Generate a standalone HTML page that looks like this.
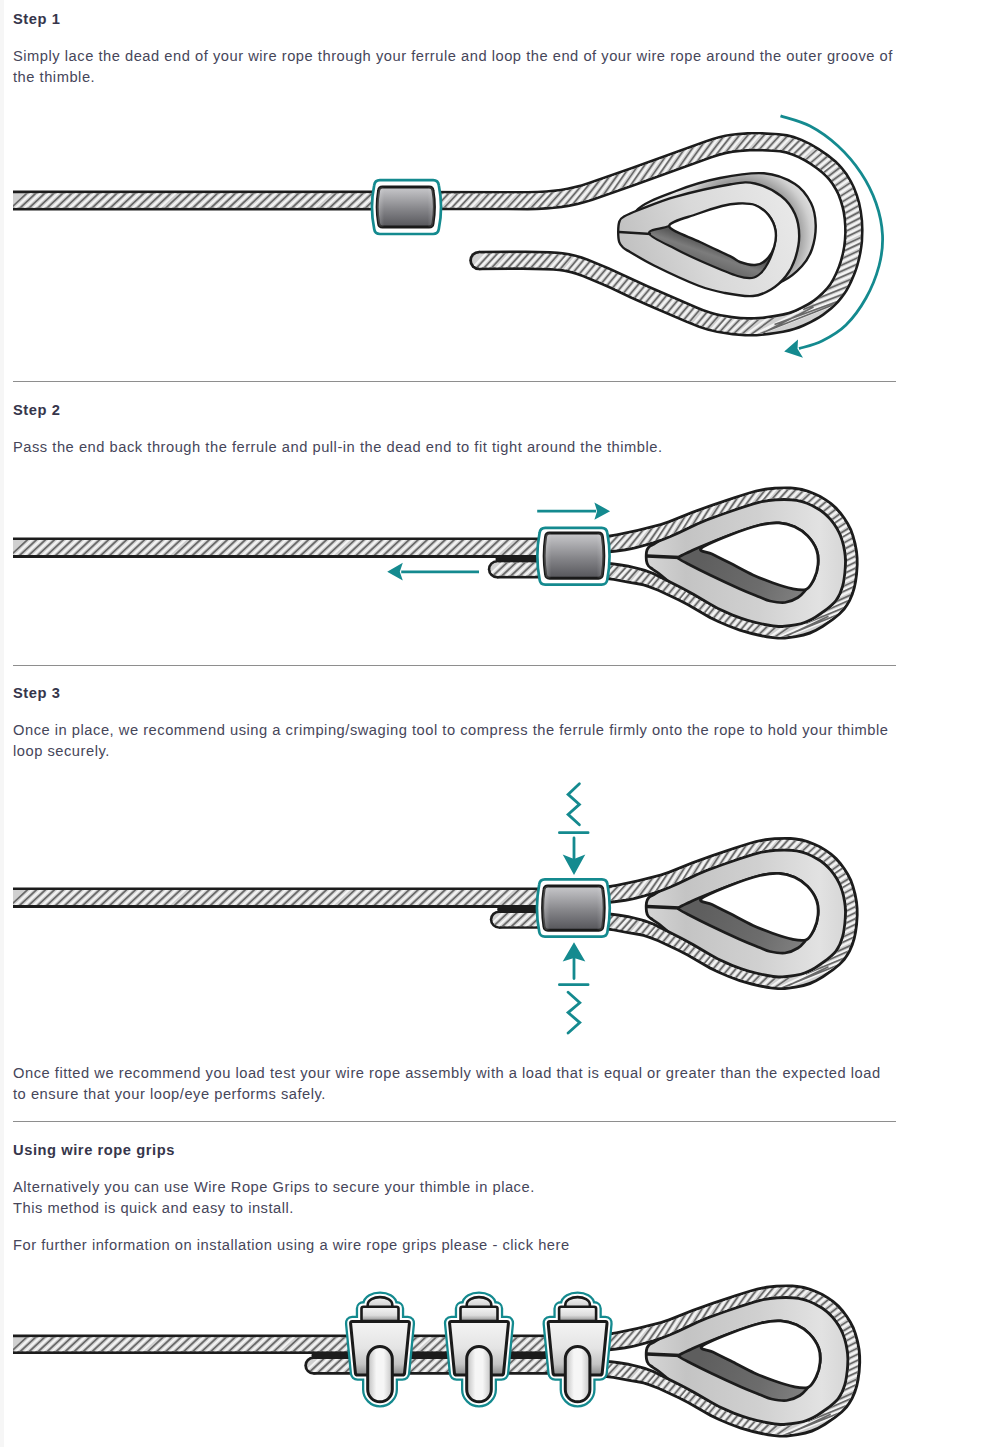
<!DOCTYPE html>
<html><head><meta charset="utf-8">
<style>
html,body{margin:0;padding:0;background:#fff;width:1000px;height:1447px;overflow:hidden;}
body{position:relative;font-family:"Liberation Sans",sans-serif;color:#46465a;font-size:14.7px;letter-spacing:0.52px;}
.t{position:absolute;left:13px;white-space:nowrap;line-height:21px;}
.b{font-weight:bold;color:#36364b;font-size:14.7px;letter-spacing:0.56px;}
.hr{position:absolute;left:13px;width:883px;height:1px;background:#8e8e8e;}
.ls{position:absolute;left:0;top:0;width:4px;height:1447px;background:#f6f6f6;}
</style></head><body>
<div class="ls"></div>
<svg width="1000" height="1447" viewBox="0 0 1000 1447" style="position:absolute;left:0;top:0"><defs>
<linearGradient id="gFer" x1="0" y1="0" x2="0" y2="1">
 <stop offset="0" stop-color="#c9c9cc"/><stop offset="0.55" stop-color="#86868a"/><stop offset="1" stop-color="#55555a"/>
</linearGradient>
<linearGradient id="gFerH" x1="0" y1="0" x2="1" y2="0">
 <stop offset="0" stop-color="#fff" stop-opacity="0.25"/><stop offset="0.12" stop-color="#fff" stop-opacity="0"/>
 <stop offset="0.88" stop-color="#fff" stop-opacity="0"/><stop offset="1" stop-color="#fff" stop-opacity="0.2"/>
</linearGradient>


<radialGradient id="gB1" gradientUnits="userSpaceOnUse" cx="742" cy="236" r="78" fx="742" fy="236">
 <stop offset="0.55" stop-color="#8a8a8a"/><stop offset="0.72" stop-color="#9c9c9c"/><stop offset="0.88" stop-color="#cfcfcf"/><stop offset="1" stop-color="#e4e4e4"/>
</radialGradient>
<linearGradient id="gF1" gradientUnits="userSpaceOnUse" x1="625" y1="260" x2="790" y2="200">
 <stop offset="0" stop-color="#c0c0c0"/><stop offset="0.45" stop-color="#d9d9d9"/><stop offset="1" stop-color="#e8e8e8"/>
</linearGradient>
<linearGradient id="gD1" gradientUnits="userSpaceOnUse" x1="715" y1="245" x2="708" y2="265">
 <stop offset="0" stop-color="#555"/><stop offset="0.5" stop-color="#7c7c7c"/><stop offset="1" stop-color="#6a6a6a"/>
</linearGradient>


<linearGradient id="gT2" gradientUnits="userSpaceOnUse" x1="645" y1="0" x2="850" y2="0">
 <stop offset="0" stop-color="#d6d6d6"/><stop offset="0.2" stop-color="#c4c4c4"/><stop offset="0.55" stop-color="#d0d0d0"/><stop offset="0.85" stop-color="#e2e2e2"/><stop offset="1" stop-color="#d4d4d4"/>
</linearGradient>
<linearGradient id="gD2" gradientUnits="userSpaceOnUse" x1="700" y1="560" x2="800" y2="600">
 <stop offset="0" stop-color="#5e5e5e"/><stop offset="0.6" stop-color="#6c6c6c"/><stop offset="1" stop-color="#808080"/>
</linearGradient>

<g id="L2">
<path d="M646.5 552 C646.8 549.8 647.4 548.8 648.5 547.5 C649.6 546.2 650.8 545.9 653 544.5 C655.2 543.1 654.2 543.8 662 539 C669.8 534.2 687 522.2 700 516 C713 509.8 729 505.5 740 502 C751 498.5 757.3 496.3 766 495 C774.7 493.7 784.4 493.4 792 494 C799.6 494.6 805.2 496.1 811.5 498.8 C817.8 501.6 824.7 505.6 830 510.5 C835.3 515.4 840.1 521.8 843.4 528 C846.7 534.2 848.7 541.5 850 548 C851.3 554.5 851.5 560.2 851.2 567 C850.9 573.8 849.9 582.2 848 588.5 C846.1 594.8 843.7 600 840 604.8 C836.3 609.5 831.3 613.2 826 617 C820.7 620.8 814.3 625 808 627.5 C801.7 630 794 631.1 788 631.8 C782 632.5 779.3 632.8 772 631.7 C764.7 630.6 753.3 628.2 744 625.3 C734.7 622.3 725.3 618.5 716 614 C706.7 609.5 697 604.3 688 598 C679 591.7 667.8 580.8 662 576 C656.2 571.2 655.2 571.2 653 569.5 C650.8 567.8 649.6 567.4 648.5 566 C647.4 564.6 646.8 563.3 646.5 561 C646.2 558.7 646.2 554.2 646.5 552 Z" fill="url(#gT2)" stroke="#1c1c1c" stroke-width="2.8"/>
<g fill="#1c1c1c"><path d="M600.2,534.8 608.3,534.8 616.4,533.5 637.6,528.9 660.2,523.2 668.3,520.6 691.9,511 712,503.7 733.6,496.4 748,491.9 755.6,489.7 765.1,487.8 774.6,486.8 785.8,486.4 790.6,486.6 795.5,487.1 802.1,488.1 808.7,489.9 814.9,492.4 820.8,495.3 826.5,498.7 831.9,502.6 837,507.1 841.4,512.1 845.4,517.4 848.9,523 852,529.1 854.3,535.4 856.4,543.2 857.9,551.3 858.5,557.9 858.6,564.4 858,573.9 856.9,581.9 855.6,588.3 853.6,594.8 850.9,601 848.3,605.6 845.2,609.9 842.8,612.6 840.3,615.1 833.9,620.3 823.6,627.4 816.6,631.5 810.4,634.4 803.8,636.4 795.9,638 784.9,639.4 781.5,639.6 777.9,639.6 772.9,639.1 766.6,638.2 759,636.7 751.4,634.9 745.4,633.3 739.4,631.4 727.7,627.1 717.7,622.8 709.2,618.7 702.4,614.8 687,605.7 677.9,601 657.8,591.5 648.5,587.9 643.2,586.3 639.3,585.4 628,583.5 613.6,580.8 607.1,580 600,580 600,562 606.2,562 611.4,562.3 619.4,563.3 628.5,564.8 631.5,565.4 640.6,567.7 645.3,569.1 649.9,570.8 654.5,572.6 658.9,574.7 682,586.5 694.1,593.1 711,603.1 718.5,607.2 726.4,610.8 733.1,613.7 741.2,616.7 748,618.9 756.3,621.2 764.8,623.1 773.3,624.6 778.6,625.1 782.3,625.1 789.3,624.3 794.9,623.5 800.3,622.4 804,621.2 807.5,619.8 811.1,618 814.6,615.9 819.3,612.8 826.4,607.8 830.5,604.3 833.1,601.7 834.7,599.9 836.7,596.7 838.5,593.4 839.9,589.8 841.2,586 842.1,582.2 842.8,578.1 843.5,572.5 843.9,566.9 844.1,561.3 843.8,555.9 843.3,551.9 842.3,546.5 840.9,541.1 839.1,536 837.5,532.5 835.6,529 832.7,524.5 829.4,520.3 826.7,517.4 823.8,514.7 819.6,511.5 816.2,509.4 811.5,506.8 806.5,504.6 801.6,502.9 796.5,501.8 791.1,501.2 784.1,500.9 775.7,501.2 768.7,501.9 761.8,503.1 753.6,505.3 739.5,509.8 722.6,515.6 707.2,521.2 697.8,525.2 679,534.2 670.3,538.1 662.9,541.1 652.7,544.6 636.3,549 631.8,550.1 625.6,551.2 616.4,552.5 609.7,553.2 606.1,553.4 599.8,553.2 Z"/></g>
<g fill="#d0d0d0"><path id="p7" d="M600.1,537.7 608.6,537.7 616.9,536.3 638.3,531.7 661.1,525.9 669.4,523.3 691.6,514.2 711.6,506.9 734.5,499.2 748.9,494.6 756.3,492.5 765.5,490.7 774.8,489.7 784.2,489.3 793.6,489.8 799.9,490.7 806.2,492.2 812.2,494.4 818,497.1 824.9,501.1 830.1,504.8 834.9,509.2 839.2,513.9 843,519 846.4,524.5 849.3,530.3 851.5,536.3 853.2,542.4 854.8,550.1 855.5,556.4 855.7,564.3 855.1,573.6 854,581.4 852.8,587.6 850.8,593.8 848.3,599.7 845.8,604.1 842.9,608.1 840.7,610.6 838.3,612.9 832.2,617.9 822.1,624.9 815.3,628.9 809.3,631.6 803.1,633.6 795.4,635.2 784.7,636.5 781.4,636.8 778.1,636.7 773.2,636.3 767.1,635.3 759.6,633.8 752.1,632.1 740.3,628.7 728.7,624.4 718.9,620.2 710.6,616.1 703.9,612.3 688.4,603.2 679.2,598.5 659,588.9 649.5,585.2 644.1,583.6 640,582.6 628.5,580.7 614,577.9 607.2,577.1 600,577.1 600,564.9 606.1,564.9 611.1,565.2 618.9,566.2 628,567.7 631,568.2 639.9,570.5 644.5,571.9 649,573.5 653.4,575.3 657.7,577.4 682,589.8 694,596.4 709.5,605.6 717.2,609.8 725.2,613.5 732,616.4 740.2,619.5 747.2,621.7 755.7,624 764.3,625.9 772.9,627.4 778.5,628 782.5,628 791.1,627 796.8,626.1 802.3,624.8 806.2,623.5 810,621.9 813.7,619.9 818.6,616.8 825.8,611.8 830.4,608.3 833.5,605.6 836.2,602.6 837.8,600.5 839.9,597 841.7,593.4 843.1,589.5 844.3,585.5 845.2,581.3 846.5,571.3 846.9,565.6 847,559.8 846.7,555.6 846.2,551.4 845.1,545.8 843.6,540.3 841.8,535 840.1,531.2 838.1,527.5 835.1,522.8 831.6,518.4 828.7,515.3 825.7,512.5 821.3,509.1 817.7,506.9 812.7,504.2 807.6,501.9 802.3,500.1 796.9,499 791.3,498.3 784.1,498 775.4,498.3 768.3,499.1 761.2,500.3 752.8,502.5 738.6,507 721.7,512.9 706.2,518.5 696.7,522.5 677.8,531.6 669.3,535.4 662.1,538.3 651.9,541.8 635.6,546.2 631.2,547.3 625.1,548.3 615.9,549.6 609.5,550.3 606.1,550.5 599.9,550.3 Z"/></g>
<clipPath id="c6"><use href="#p7"/></clipPath>
<path clip-path="url(#c6)" d="M597.6 553.9L615.8 534.4M604.5 554.4L625 532.4M611.6 554L633.1 530.1M620.4 552.9L642.1 527.6M629.6 551.2L650.4 525.2M640.4 548.7L659.9 522.3M649.8 546L667.6 520M657.5 543.5L674.3 517.8M666.4 540.2L682.6 514.3M676 536.1L692.8 509.2M684.5 531.9L700.6 506.1M694.7 526.9L709.4 503.4M703.2 523.4L717.5 500.9M713.1 519.7L727.5 497.5M721.5 516.6L736.1 494.7M730 513.6L744.7 492.1M738.5 510.7L753.5 489.5M746.7 508L762.7 486.8M756.8 504.9L772.5 485.3M764.2 503.2L779.5 485.1M773.1 502.1L788 485.3M780.6 501.7L795.3 485.7M788.1 501.7L802.5 486.8M795.5 502.5L809.4 488.6M802.7 504.1L816.1 491.5M808.1 506.2L821.4 494.2M813.4 508.8L826.6 497.3M818.4 511.8L831.5 500.8M823 515.3L836.2 504.8M827.2 519.3L840.4 509.2M830.9 523.7L844.3 514M833.4 527.2L847 517.9M836.4 532.2L850.2 523.2M838.8 537.5L852.9 528.8M840.2 541.7L854.6 533.2M841.6 547.4L856.4 539.2M842.7 553.1L857.8 545.2M843.4 559.1L858.9 551.3M843.4 565.2L859.4 557.4M843 571.3L859.5 563.5M842.3 577.4L859.2 569.5M841.3 583.5L858.7 575.4M839.4 591.3L857.6 582.8M836.8 597.6L856.4 588.5M830.9 607L853.8 596.6M822.6 615.2L851.5 602.3M798.4 629.4L850.8 607.3M758.8 648.1L856.8 608.5M760.6 645.9L819.4 618.1M764.5 640.7L787.8 624.4M759.6 637.9L774.9 624M753.1 636.4L767.1 622.7M746.4 634.6L759.5 621.1M741.1 633.1L753.4 619.5M735.8 631.3L747.3 617.8M730.3 629.3L741.6 615.9M724.8 627.1L736 613.8M719.4 624.7L730.4 611.5M713.9 622.2L724.9 609.1M708.6 619.5L719.5 606.6M703.4 616.6L714.2 603.8M699.5 614.3L710.3 601.5M694.4 611.2L705.1 598.4M689.3 608.1L700 595.3M684 605.1L694.8 592.3M678.7 602.4L689.5 589.5M674.6 600.4L685.6 587.3M669.2 597.7L680.3 584.5M663.7 595.2L674.9 581.8M658.2 592.6L669.6 579.1M652.7 590.2L664.2 576.4M647 587.9L658.9 573.8M642.5 586.6L654.9 571.8M636.4 585.1L649.4 569.6M630 584L644 567.7M621.9 583L637.1 565.8M615.7 582L631.5 564.5M609.6 581L625.6 563.5M601.9 580L618.3 562.3M595.1 580.2L612.6 561.5M587 580.8L605.3 561.2" stroke="#f4f4f4" stroke-width="2.0" fill="none"/>
<path clip-path="url(#c6)" d="M593.9 553.8L612.1 534.3M600.2 554.9L620.8 532.8M607.2 554.8L628.7 530.8M616 553.8L637.6 528.5M625.2 552.3L646 526.2M636 549.9L655.5 523.5M645.5 547.2L663.4 521.2M653.2 544.9L670.1 519.2M662 541.9L678.2 516M671.4 538.2L688.2 511.3M679.9 533.9L696 508.2M690.3 528.7L705 505.2M698.9 525L713.2 502.5M708.7 521.2L723.1 499.1M717.1 518.1L731.7 496.3M725.6 515.1L740.4 493.5M734 512.1L749 490.9M742.1 509.4L758.1 488.2M752.5 505.8L768.1 486.3M760 503.8L775.3 485.7M769.2 502.3L784.1 485.5M776.8 501.6L791.5 485.7M784.4 501.5L798.8 486.5M792.1 501.8L806.1 488M799.6 503.1L813.1 490.5M805.3 505L818.6 493M810.7 507.4L823.9 495.9M815.9 510.2L829.1 499.2M820.8 513.5L833.9 503M825.2 517.3L838.4 507.2M829.2 521.6L842.5 511.8M831.8 525L845.4 515.6M835 529.8L848.8 520.8M837.6 535L851.8 526.3M839.2 539L853.6 530.6M840.8 544.6L855.6 536.4M842.1 550.3L857.2 542.4M843 556.1L858.5 548.4M843.3 562.1L859.3 554.3M843.1 568.1L859.5 560.3M842.6 574.2L859.4 566.3M841.7 580.2L859.1 572.2M840.1 587.9L858.3 579.4M837.9 594L857.5 584.9M833 603L855.8 592.6M826 610.6L854.9 597.7M805.8 623.6L858.2 601.6M766.9 643.4L864.9 603.8M769.7 643.9L828.5 616.2M769.6 640.6L793 624.3M763.2 638.4L778.5 624.6M756.4 637L770.4 623.4M749.6 635.4L762.6 621.8M744.1 633.9L756.4 620.3M738.7 632.2L750.2 618.7M733.2 630.3L744.4 616.9M727.6 628.1L738.7 614.9M722.1 625.8L733.1 612.7M716.6 623.4L727.6 610.3M711.2 620.8L722.1 607.8M705.9 618L716.7 605.1M702 615.8L712.7 602.9M696.8 612.7L707.6 599.9M691.7 609.6L702.4 596.8M686.5 606.6L697.3 593.7M681.2 603.7L692 590.8M677.1 601.7L688.1 588.6M671.7 599L682.8 585.8M666.3 596.4L677.5 583M660.8 593.9L672.2 580.3M655.3 591.4L666.9 577.6M649.7 589.1L661.6 574.9M645.3 587.6L657.7 572.9M639.3 586L652.3 570.5M633 584.8L647.1 568.4M625.1 583.6L640.3 566.4M618.9 582.6L634.7 565.1M612.9 581.5L628.9 564.1M605.3 580.4L621.6 562.8M598.8 580.4L616.2 561.7M590.9 580.8L609.1 561.2" stroke="#686868" stroke-width="1.6" fill="none"/>
<path d="M679 557 C680.7 555.7 686.5 553.2 690 551.5 C693.5 549.8 693.3 549.8 700 547 C706.7 544.2 720 538.7 730 535 C740 531.3 751.8 527 760 525 C768.2 523 773.2 522.6 779 522.9 C784.8 523.2 789.8 524.6 794.6 526.8 C799.4 529 803.9 532 807.6 535.9 C811.3 539.8 815 545.4 816.7 550.2 C818.4 555 818.4 559.7 818 564.5 C817.6 569.3 816.1 574.7 814.1 578.8 C812.1 582.9 809 586.1 806.3 589.2 C803.6 592.3 801.5 595.3 798 597.5 C794.5 599.7 789.7 601.9 785 602.5 C780.3 603.1 774.2 601.9 770 601 C765.8 600.1 764.5 599 759.5 597 C754.5 595 748.2 592.7 740 589 C731.8 585.3 718.3 579 710 575 C701.7 571 695 567.6 690 565 C685 562.4 681.8 560.8 680 559.5 C678.2 558.2 677.3 558.3 679 557 Z" fill="url(#gD2)" stroke="#1c1c1c" stroke-width="2.7"/>
<path d="M701 548.5 C704 545.3 720.2 538.9 730 535 C739.8 531.1 751.8 527 760 525 C768.2 523 773.2 522.6 779 522.9 C784.8 523.2 789.8 524.6 794.6 526.8 C799.4 529 803.9 532 807.6 535.9 C811.3 539.8 815 545.4 816.7 550.2 C818.4 555 818.4 559.7 818 564.5 C817.6 569.3 816.1 574.7 814.1 578.8 C812.1 582.9 810 587.6 806.3 589.2 C802.6 590.8 797.6 589.7 792 588.6 C786.4 587.5 779 585 772.5 582.7 C766 580.4 760.1 578.2 753 574.9 C745.9 571.6 736.8 566.5 730 563 C723.2 559.5 716.8 556.4 712 554 C707.2 551.6 698 551.7 701 548.5 Z" fill="#fff" stroke="#1c1c1c" stroke-width="2.8"/>
<path d="M647 556 L680 557.5" stroke="#1c1c1c" stroke-width="3.6" fill="none"/>
</g>

<linearGradient id="gSad" x1="0" y1="0" x2="0" y2="1">
 <stop offset="0" stop-color="#f4f4f4"/><stop offset="0.5" stop-color="#e4e4e4"/><stop offset="0.8" stop-color="#c4c4c4"/><stop offset="1" stop-color="#8a8a8a"/>
</linearGradient>
<linearGradient id="gNut" x1="0" y1="0" x2="0" y2="1">
 <stop offset="0" stop-color="#f6f6f6"/><stop offset="0.6" stop-color="#dcdcdc"/><stop offset="1" stop-color="#8e8e8e"/>
</linearGradient>
<linearGradient id="gLeg" x1="0" y1="0" x2="1" y2="0">
 <stop offset="0" stop-color="#bdbdbd"/><stop offset="0.35" stop-color="#f6f6f6"/><stop offset="0.65" stop-color="#f6f6f6"/><stop offset="1" stop-color="#c4c4c4"/>
</linearGradient>
<linearGradient id="gDome" x1="0" y1="0" x2="0" y2="1">
 <stop offset="0" stop-color="#f2f2f2"/><stop offset="1" stop-color="#d0d0d0"/>
</linearGradient>
</defs>
<g fill="#1c1c1c"><path d="M13,190.6 420,190.6 420,210.4 13,210.4 Z"/></g>
<g fill="#d0d0d0"><path d="M13,193.3 420,193.3 420,207.7 13,207.7 Z"/></g>
<clipPath id="c1"><path d="M13,193.3 420,193.3 420,207.7 13,207.7 Z"/></clipPath>
<path clip-path="url(#c1)" d="M12.2 211.1L34.9 189.9M21.2 211.1L43.9 189.9M30.2 211.1L52.9 189.9M39.2 211.1L61.9 189.9M48.3 211.1L70.9 189.9M57.3 211.1L80 189.9M66.3 211.1L89 189.9M75.3 211.1L98 189.9M84.3 211.1L107 189.9M93.3 211.1L116 189.9M102.3 211.1L125 189.9M111.3 211.1L134 189.9M120.3 211.1L143 189.9M129.4 211.1L152 189.9M138.4 211.1L161.1 189.9M147.4 211.1L170.1 189.9M156.4 211.1L179.1 189.9M166.9 211.1L189.6 189.9M175.9 211.1L198.6 189.9M184.9 211.1L207.6 189.9M193.9 211.1L216.6 189.9M202.9 211.1L225.6 189.9M212 211.1L234.7 189.9M221 211.1L243.7 189.9M230 211.1L252.7 189.9M239 211.1L261.7 189.9M248 211.1L270.7 189.9M257 211.1L279.7 189.9M266 211.1L288.7 189.9M275 211.1L297.7 189.9M284 211.1L306.7 189.9M293.1 211.1L315.8 189.9M302.1 211.1L324.8 189.9M311.1 211.1L333.8 189.9M321.6 211.1L344.3 189.9M330.6 211.1L353.3 189.9M339.6 211.1L362.3 189.9M348.6 211.1L371.3 189.9M357.6 211.1L380.3 189.9M366.6 211.1L389.3 189.9M375.7 211.1L398.4 189.9M384.7 211.1L407.4 189.9M393.7 211.1L416.4 189.9M402.7 211.1L425.4 189.9M411.7 211.1L434.4 189.9" stroke="#f4f4f4" stroke-width="2.0" fill="none"/>
<path clip-path="url(#c1)" d="M7.7 211.1L30.4 189.9M16.7 211.1L39.4 189.9M25.7 211.1L48.4 189.9M34.7 211.1L57.4 189.9M43.7 211.1L66.4 189.9M52.7 211.1L75.4 189.9M61.7 211.1L84.4 189.9M70.7 211.1L93.4 189.9M79.7 211.1L102.4 189.9M88.8 211.1L111.5 189.9M97.8 211.1L120.5 189.9M106.8 211.1L129.5 189.9M115.8 211.1L138.5 189.9M124.8 211.1L147.5 189.9M133.8 211.1L156.5 189.9M142.8 211.1L165.5 189.9M151.8 211.1L174.5 189.9M162.3 211.1L185 189.9M171.4 211.1L194.1 189.9M180.4 211.1L203.1 189.9M189.4 211.1L212.1 189.9M198.4 211.1L221.1 189.9M207.4 211.1L230.1 189.9M216.4 211.1L239.1 189.9M225.4 211.1L248.1 189.9M234.4 211.1L257.1 189.9M243.4 211.1L266.1 189.9M252.5 211.1L275.2 189.9M261.5 211.1L284.2 189.9M270.5 211.1L293.2 189.9M279.5 211.1L302.2 189.9M288.5 211.1L311.2 189.9M297.5 211.1L320.2 189.9M306.5 211.1L329.2 189.9M317 211.1L339.7 189.9M326.1 211.1L348.7 189.9M335.1 211.1L357.8 189.9M344.1 211.1L366.8 189.9M353.1 211.1L375.8 189.9M362.1 211.1L384.8 189.9M371.1 211.1L393.8 189.9M380.1 211.1L402.8 189.9M389.1 211.1L411.8 189.9M398.1 211.1L420.8 189.9M407.2 211.1L429.8 189.9" stroke="#686868" stroke-width="1.7" fill="none"/>
<g fill="#1c1c1c"><path d="M400,190.8 527.4,190.9 537.6,190.7 546.3,190.2 553.5,189.6 560.5,188.7 567.4,187.5 575.8,185.6 581.2,184.2 588,182 630.3,167.3 705.1,140.2 712.6,137.7 718.8,135.9 725.2,134.5 731.7,133.4 738.1,132.8 747.4,132.1 753.8,131.9 760.2,131.9 778.8,132.9 787.3,134.1 794.1,135.8 802,138.7 810.9,143 819.4,147.9 828.6,154.3 836.3,160.6 840,164.2 842.3,166.8 844.5,169.5 847.6,173.6 851.9,180.7 855,186.9 858,194.8 860.3,202.6 862,210.9 863.2,220.5 863.6,230.3 863.2,241.6 862.6,246.6 861.6,253.1 860.2,259.4 858.6,265.6 857,270.4 855.3,275.1 852.1,282.4 850,286.8 847.5,291.3 845.5,294.3 842.4,298.5 839.1,302.4 835.6,306 831.9,309.4 828.1,312.6 824,315.7 819.8,318.5 815.5,321 811.2,323.3 804,326.8 799.3,328.7 794.5,330.3 789.6,331.7 783.3,333 769.3,335.3 756.6,336.5 751.7,336.6 745.2,336.5 738.8,336.1 732.5,335.4 717,333.1 707.4,330.8 698.2,327.8 685.2,322.6 647.9,306.4 630,298.4 609.6,288.7 601.6,285.2 582.6,277.2 576,274.9 570.9,273.4 564.2,271.9 559,271.2 553.5,270.8 544.7,270.4 522.5,270 479,270.2 479,250.8 525.6,250.5 537.7,250.7 549.9,251.1 557.8,251.5 562.7,252 569.3,253 575.7,254.5 582,256.3 588.1,258.5 609.3,267.3 649,285.5 696.9,306.3 703.6,309 710.2,311.3 715.4,312.8 720.7,314 732,315.7 740.5,316.7 747.4,317.1 754.2,317.1 762.6,316.4 772.5,315.1 782.3,313.3 788.7,311.7 794.9,309.4 801.1,306.5 807.2,303.3 812.8,299.7 817,296.5 821.9,292.1 826.4,287.3 829.5,283.3 832,279 835,272.9 837.7,266.5 839.8,260.2 841.6,253.5 842.9,246.7 843.7,240 844.1,233.1 844,226.3 843.5,219.4 842.5,212.6 841.4,207.5 839.5,200.9 837.2,194.8 834.9,190.3 831.4,184.6 828.4,180.5 825,176.8 821.2,173.3 815.8,169.1 810,165.1 804.2,161.5 798.1,158.3 792,155.7 785.8,153.7 779.7,152.6 772.9,152 759.7,151.4 749.9,151.5 739.8,152.2 732.9,153 726.3,154.2 719.7,155.9 711.6,158.6 636.9,185.6 592.7,201 585.1,203.3 578.9,204.9 569.7,206.9 561.8,208.2 553.9,209.1 546.2,209.7 536.9,210.2 527.7,210.4 400,210.2 Z"/><circle cx="479" cy="260.5" r="9.8"/></g>
<g fill="#d0d0d0"><path id="p3" d="M400,193.5 527.4,193.6 537.7,193.3 546.5,192.8 553.8,192.2 560.9,191.3 568,190.1 576.4,188.3 581.9,186.8 588.9,184.6 631.2,169.8 704.6,143.2 713.4,140.3 719.5,138.5 725.7,137.1 732.1,136.1 747.6,134.8 753.9,134.6 760.1,134.6 777,135.5 785.1,136.4 791.7,137.9 799.4,140.6 808.2,144.6 812.5,146.9 817.9,150.2 827,156.5 834.4,162.6 838,166.1 840.3,168.5 845.3,175.1 849.6,182 852.6,188 855.5,195.7 857.7,203.3 859.4,211.3 860.5,220.8 860.9,230.3 860.5,241.4 860,246.2 858.9,252.6 857.6,258.8 856,264.9 854.5,269.5 852.8,274.1 850.3,279.8 847.6,285.6 845.1,289.9 843.3,292.8 840.3,296.8 837.1,300.6 833.7,304.1 830.1,307.4 826.4,310.5 822.5,313.5 818.4,316.2 814.2,318.6 810,320.9 802.9,324.3 798.4,326.1 793.7,327.7 789,329 782.8,330.4 775.1,331.7 767.4,332.8 761.2,333.4 754.9,333.9 750.1,333.9 743.7,333.8 732.8,332.8 717.5,330.5 708.1,328.2 699.1,325.2 684.9,319.5 649,303.9 631.1,295.9 610.7,286.3 602.7,282.7 583.5,274.7 576.8,272.3 571.5,270.7 566.1,269.5 560.6,268.7 555,268.2 546.3,267.8 524,267.3 479,267.5 479,253.5 525.5,253.2 548.3,253.7 556,254.1 562.3,254.7 568.7,255.7 575,257.1 581.2,258.9 587.2,261 608.2,269.7 647.9,288 695.8,308.8 702.6,311.5 709.3,313.8 714.7,315.4 720.2,316.6 731.6,318.4 740.3,319.4 747.3,319.8 754.3,319.8 764.3,319 774.4,317.6 784.2,315.7 790.8,313.9 797.2,311.4 803.6,308.3 809.7,304.9 814.3,301.9 818.7,298.6 823.8,294 828.4,289 831.7,284.8 834.4,280.3 837.4,274.1 840.2,267.5 842.4,260.9 844.5,252.7 845.8,245.8 846.5,238.9 846.8,231.8 846.6,224.7 846,217.7 845,210.8 843.7,205.5 841.6,198.8 839.7,193.7 837.3,188.9 833.7,183.1 830.5,178.8 826.9,174.9 822.9,171.2 817.4,166.9 811.5,162.8 805.5,159.1 799.3,155.9 793,153.2 786.5,151.1 781.4,150.1 774.5,149.4 759.8,148.7 749.8,148.8 739.6,149.5 732.5,150.3 725.7,151.6 718.9,153.3 710.7,156 635.9,183.1 591.8,198.5 584.4,200.7 578.3,202.3 569.2,204.2 561.4,205.5 553.7,206.4 546,207 536.8,207.5 527.6,207.7 400,207.5 Z"/><circle cx="479" cy="260.5" r="7"/></g>
<clipPath id="c2"><use href="#p3"/><circle cx="479" cy="260.5" r="7"/></clipPath>
<path clip-path="url(#c2)" d="M397.2 211L416.7 190M404.7 211L424.2 190M412.2 211L431.7 190M421.2 211L440.7 190M428.7 211L448.2 190M436.2 211L455.7 190M445.2 211L464.8 190M452.7 211L472.3 190M460.2 211L479.8 190M467.7 211L487.3 190M476.7 211L496.3 190M484.2 211L503.7 190.1M491.8 211L511.2 190.2M499.3 211.1L518.7 190.3M508.2 211.2L527.7 190.3M515.7 211.2L535.3 190.2M523.1 211.2L543 190M532 211.1L552.3 189.3M539.5 210.8L559.9 188.6M548.4 210.3L569.1 187.3M557.2 209.6L578.6 185.1M565.9 208.4L587.9 182.5M574.5 206.8L597.2 179.3M584.5 204.3L607.6 175M594.8 201L617 171.2M605.4 197.2L625.8 168.4M614 194.3L634.2 165.4M623.8 190.9L644.3 161.7M632.3 187.9L652.8 158.6M642.2 184.3L662.7 155.1M652 180.8L672.6 151.4M660.5 177.8L681.1 148.3M670.4 174.2L690.9 144.8M680.2 170.6L700.9 141.2M689.7 167.2L711.4 137.1M699.3 163.6L721.6 133.7M709.4 159.7L731.2 131.3M718.4 156.6L738.9 130.7M727.6 154.3L746.7 130.8M736.7 153.1L755.3 130.7M744.1 152.5L762.7 130.7M753.2 152.1L771.3 131.3M760.7 152.2L778.7 132M768 152.5L786.3 132.5M775.6 152.9L793.4 133.8M783.1 153.9L799.9 136.4M788.7 155.5L805.3 138.8M794.2 157.6L810.8 141.5M799.5 160L816.1 144.5M805.8 163.6L822.5 148.6M810.7 166.7L827.5 152.1M815.5 170.1L832.4 155.9M820.1 173.7L837.1 159.8M823.3 176.5L840.4 163M827.3 180.7L844.5 167.7M830.8 185.3L848.2 172.7M833.9 190.3L851.5 177.9M836.6 195.4L854.5 183.4M838.6 200.9L857 189.1M840.3 206.5L859.1 194.9M841.7 212.1L860.9 200.9M842.6 218L862.3 207M843.1 223.9L863.3 213.1M843.4 229.8L864 219.2M843.4 235.8L864.4 225.3M843 241.8L864.5 231.4M842.1 249.3L864.2 239M840.8 255.6L863.7 244.9M838.6 263.3L862.7 252.1M836.1 270.9L861.1 259.4M832.6 278.4L859.3 266.4M828.7 285.6L856.8 273.3M823.1 294.2L853.7 281.3M813.6 303.2L851 288.2M797.6 314.6L846.8 296M766.4 329.8L849.3 299.6M716.3 351.2L863.2 293.2M739.8 341.9L804.1 308.8M740.5 338.7L772.5 315M733.9 337.3L757.6 316.5M727.1 336L747.4 316.5M720.9 334.8L739.2 315.8M714.3 333.7L731.3 314.8M708.8 332.5L725.2 313.9M702.1 330.4L717.6 312.4M696.7 328.4L711.7 310.8M691.3 326.3L705.9 308.9M684.5 323.4L698.9 306.1M679 321L693.4 303.8M673.5 318.6L687.9 301.5M668 316.2L682.4 299.1M662.5 313.8L676.9 296.7M657 311.4L671.4 294.3M651.5 309L665.9 291.9M646 306.6L660.4 289.5M640.5 304.2L654.9 287.1M635.1 301.7L649.4 284.7M629.6 299.3L643.9 282.2M624.2 296.8L638.4 279.7M618.8 294.2L633 277.2M613.4 291.6L627.6 274.6M607.9 289L622.2 272M602.4 286.5L616.7 269.5M596.9 284.2L611.3 267.1M591.3 281.9L605.7 264.7M585.8 279.5L600.2 262.3M580.2 277.2L594.7 260M574.5 275.2L589.1 257.8M568.6 273.4L583.5 255.8M562.5 272.2L577.7 254.1M554.7 271.1L570.6 252.4M548.1 270.9L564.9 251.4M540 270.9L557.7 250.7M532.2 270.8L550.3 250.3M524.4 270.6L543 250M516.7 270.7L535.6 249.9M509.1 270.7L528.1 249.8M501.5 270.8L520.7 249.8M493.9 270.9L513.2 249.8M484.8 270.9L504.3 249.8M477.2 271L496.8 249.9M469.7 271L489.3 250" stroke="#f4f4f4" stroke-width="2.0" fill="none"/>
<path clip-path="url(#c2)" d="M393.2 211L412.8 190M400.7 211L420.3 190M408.2 211L427.8 190M417.2 211L436.8 190M424.7 211L444.3 190M432.2 211L451.8 190M441.2 211L460.8 190M448.7 211L468.3 190M456.2 211L475.8 190M463.7 211L483.3 190M472.8 211L492.3 190M480.3 211L499.8 190.1M487.8 211L507.2 190.2M495.3 211L514.7 190.2M504.3 211.1L523.8 190.3M511.7 211.2L531.3 190.2M519.1 211.3L538.9 190M527.9 211.3L548.2 189.5M535.3 211.1L555.7 188.9M544.1 210.8L564.8 187.7M552.7 210.3L574.1 185.9M561.2 209.4L583.3 183.5M569.7 208.1L592.3 180.6M579.6 206L602.6 176.6M589.9 202.7L612.1 173M600.7 198.8L621.1 170M609.3 195.9L629.5 167M619.1 192.6L639.5 163.4M627.6 189.6L648.1 160.3M637.5 186L657.9 156.8M647.3 182.6L667.9 153.1M655.7 179.5L676.4 150M665.6 175.9L686.2 146.5M675.5 172.4L696.1 143M684.8 169.1L706.5 139M694.4 165.3L716.7 135.4M704.5 161.2L726.4 132.8M713.9 157.6L734.4 131.7M723.5 154.9L742.6 131.3M732.7 153.4L751.3 131M740.2 152.6L758.7 130.9M749.4 152L767.5 131.3M757 152L775 131.8M764.3 152.3L782.6 132.3M772 152.5L789.8 133.4M779.9 153.1L796.7 135.5M785.7 154.4L802.3 137.7M791.3 156.3L807.9 140.3M796.7 158.6L813.3 143.1M803.2 162L819.9 147M808.2 165L825 150.5M813.1 168.3L830 154.1M817.8 171.8L834.8 157.9M821.2 174.5L838.2 161.1M825.4 178.6L842.5 165.5M829.1 183L846.4 170.3M832.3 187.8L850 175.4M835.2 192.8L853.1 180.8M837.5 198.1L855.9 186.3M839.4 203.6L858.2 192.1M840.9 209.2L860.1 198M842 215L861.7 204M842.7 220.8L862.9 210M843.2 226.6L863.7 216.1M843.3 232.6L864.3 222.1M843.1 238.5L864.6 228.2M842.4 246L864.5 235.7M841.3 252.2L864.2 241.5M839.4 259.8L863.4 248.6M837.1 267.2L862.1 255.7M834 274.6L860.7 262.6M830.4 281.7L858.5 269.4M825.3 290.1L855.9 277.2M817 298.7L854.4 283.7M803.1 309.4L852.2 290.8M774.5 324.5L857.4 294.3M725.2 347.5L872.1 289.4M749.3 340L813.5 307M746.1 338.1L778.2 314.4M738.3 337.3L762 316.5M731 336.3L751.3 316.8M724.5 335.3L742.8 316.3M717.7 334.2L734.7 315.3M712.1 333.1L728.5 314.5M705.2 331.2L720.8 313.2M699.7 329.4L714.7 311.7M694.2 327.3L708.8 309.9M687.3 324.5L701.8 307.3M681.8 322.2L696.2 305M676.3 319.8L690.7 302.7M670.8 317.4L685.2 300.3M665.3 315L679.7 297.9M659.8 312.6L674.2 295.5M654.3 310.2L668.6 293.1M648.8 307.8L663.1 290.7M643.3 305.4L657.6 288.3M637.8 303L652.1 285.9M632.3 300.5L646.7 283.5M626.9 298L641.2 281M621.5 295.5L635.7 278.5M616.1 292.9L630.3 275.9M610.6 290.3L624.9 273.3M605.2 287.8L619.5 270.8M599.7 285.4L614 268.3M594.1 283L608.5 265.9M588.6 280.7L603 263.5M583 278.4L597.5 261.2M577.4 276.3L592 258.9M571.6 274.4L586.4 256.8M565.7 273L580.9 254.9M558 271.7L573.9 253M551.6 271.3L568.4 251.8M543.7 271.1L561.3 250.8M535.9 270.9L554.1 250.4M528.2 270.7L546.8 250.1M520.6 270.7L539.4 249.9M513 270.7L532 249.8M505.4 270.8L524.6 249.8M497.8 270.8L517.2 249.8M488.8 270.9L508.2 249.8M481.2 271L500.8 249.9M473.7 271L493.3 249.9" stroke="#686868" stroke-width="1.6" fill="none"/>
<path d="M379.9 180.2 L433.1 180.2 Q438.1 180.2 438.8 185.2 C441.5 198.3 441.5 215.8 438.8 229 Q438.1 234 433.1 234 L379.9 234 Q374.9 234 374.2 229 C371.5 215.8 371.5 198.3 374.2 185.2 Q374.9 180.2 379.9 180.2 Z" fill="#fff" stroke="#148a8f" stroke-width="2.7"/>
<path d="M382.5 187.1 L429.1 187.1 Q432.6 187.1 433 190.6 C434.7 200.5 434.7 213.6 433 223.5 Q432.6 227 429.1 227 L382.5 227 Q379 227 378.6 223.5 C376.9 213.6 376.9 200.5 378.6 190.6 Q379 187.1 382.5 187.1 Z" fill="url(#gFer)" stroke="#1a1a1a" stroke-width="3.0"/>
<path d="M382.5 187.1 L429.1 187.1 Q432.6 187.1 433 190.6 C434.7 200.5 434.7 213.6 433 223.5 Q432.6 227 429.1 227 L382.5 227 Q379 227 378.6 223.5 C376.9 213.6 376.9 200.5 378.6 190.6 Q379 187.1 382.5 187.1 Z" fill="url(#gFerH)" stroke="none"/>
<path d="M636.4 210.7 C643.4 202.5 662.1 196.4 676 191 C689.9 185.6 705.3 180.9 720 178 C734.7 175.1 751.5 172.3 764 173.3 C776.5 174.3 787.2 179.1 795 184 C802.8 188.9 807.5 196.2 811 203 C814.5 209.8 815.5 217.3 815.7 225 C815.9 232.7 814.3 242.2 812 249 C809.7 255.8 806.8 260.7 802 266 C797.2 271.3 791.2 277 783 281 C774.8 285 766.8 289.8 753 290 C739.2 290.2 717.2 287 700 282 C682.8 277 661 267 650 260 C639 253 636.3 248.2 634 240 C631.7 231.8 629.4 218.9 636.4 210.7 Z" fill="url(#gB1)" stroke="#1c1c1c" stroke-width="2.4"/>
<path d="M624 216.5 C627.4 214.5 631.3 212.8 640 209.5 C648.7 206.2 660.8 200.8 676 196.6 C691.2 192.4 717.8 186.5 731 184.3 C744.2 182.1 746.7 181.6 755 183.5 C763.3 185.4 774.3 190.9 781 196 C787.7 201.1 792 207.3 795 214 C798 220.7 799.2 228.5 799.2 236 C799.2 243.5 797.2 252.3 795 259 C792.8 265.7 790 270.9 786 276 C782 281.1 776.5 286.2 771 289.5 C765.5 292.8 760.7 295.4 753 296 C745.3 296.6 734.2 294.8 725 293 C715.8 291.2 709.8 290.1 698 285.5 C686.2 280.9 665.3 271.1 654 265.5 C642.7 259.9 635.2 255 630 252 C624.8 249 624.8 249.2 623 247.5 C621.2 245.8 620 244.6 619.2 242 C618.4 239.4 618.2 235.4 618.2 232 C618.2 228.6 618.4 224.1 619.4 221.5 C620.4 218.9 620.6 218.5 624 216.5 Z" fill="url(#gF1)" stroke="#1c1c1c" stroke-width="2.4"/>
<path d="M649 233.5 C647.6 229.5 661.2 229.1 669.2 226 C677.2 222.9 688.2 218.2 697 215 C705.8 211.8 715.1 208.8 722 207 C728.9 205.2 732.9 204.3 738.4 204 C743.9 203.7 749.9 203.6 754.9 205.4 C759.9 207.2 765.1 210.8 768.5 215 C771.9 219.2 774.6 225.1 775.5 230.4 C776.4 235.7 775.4 241.6 774.1 247 C772.9 252.4 770.2 258.7 768 263 C765.8 267.3 763.7 270.5 761 273 C758.3 275.5 755.9 277.5 752 278 C748.1 278.5 744.9 278.3 737.5 276 C730.1 273.7 717.5 268.3 707.5 264 C697.5 259.7 687.2 255.1 677.5 250 C667.8 244.9 650.4 237.5 649 233.5 Z" fill="url(#gD1)" stroke="#1c1c1c" stroke-width="2.2"/>
<path d="M669.2 226.2 C668.7 221.5 688.2 217.4 697 214 C705.8 210.6 715.1 207.8 722 206 C728.9 204.2 732.9 203.7 738.4 203.5 C743.9 203.3 749.9 203.1 754.9 205 C759.9 206.9 765.1 210.8 768.5 215 C771.9 219.2 774.6 225.1 775.5 230.4 C776.4 235.7 775.7 242.1 774.1 247 C772.5 251.9 769.2 257 766 260 C762.8 263 759.3 264.7 755 265 C750.7 265.3 744.2 263.5 740 262 C735.8 260.5 736.7 259.5 730 256.2 C723.3 252.9 710.1 247 700 242 C689.9 237 669.7 230.9 669.2 226.2 Z" fill="#fff" stroke="#1c1c1c" stroke-width="2.4"/>
<path d="M619 232 L651 234" stroke="#1c1c1c" stroke-width="2.6" fill="none"/>
<path d="M780.5 115.9 C785.4 117.6 800.4 121 810 126 C819.6 131 829.5 138.2 838 146 C846.5 153.8 854.7 163.5 861 173 C867.3 182.5 872.4 192.7 876 203 C879.6 213.3 882 224.5 882.5 235 C883 245.5 881.8 255.5 879 266 C876.2 276.5 871.5 288.2 866 298 C860.5 307.8 853.3 317.8 846 325 C838.7 332.2 829.8 337.1 822 341 C814.2 344.9 802.8 347.3 799 348.6" fill="none" stroke="#148a8f" stroke-width="2.8"/>
<path d="M784.2 351.4 L798 339.5 L797.5 348.8 L803 357.8 Z" fill="#148a8f"/>
<g fill="#1c1c1c"><path d="M13,537.4 560,537.4 560,557.9 13,557.9 Z"/></g>
<g fill="#d0d0d0"><path d="M13,540.1 560,540.1 560,555.1 13,555.1 Z"/></g>
<clipPath id="c4"><path d="M13,540.1 560,540.1 560,555.1 13,555.1 Z"/></clipPath>
<path clip-path="url(#c4)" d="M11.8 558.5L35.3 536.7M20.9 558.5L44.3 536.7M29.9 558.5L53.3 536.7M38.9 558.5L62.3 536.7M47.9 558.5L71.4 536.7M56.9 558.5L80.4 536.7M65.9 558.5L89.4 536.7M75 558.5L98.4 536.7M84 558.5L107.4 536.7M93 558.5L116.4 536.7M102 558.5L125.4 536.7M111 558.5L134.5 536.7M120 558.5L143.5 536.7M129.1 558.5L152.5 536.7M138.1 558.5L161.5 536.7M147.1 558.5L170.5 536.7M156.1 558.5L179.5 536.7M165.1 558.5L188.6 536.7M175.6 558.5L199.1 536.7M184.7 558.5L208.1 536.7M193.7 558.5L217.1 536.7M202.7 558.5L226.1 536.7M211.7 558.5L235.1 536.7M220.7 558.5L244.2 536.7M229.7 558.5L253.2 536.7M238.8 558.5L262.2 536.7M247.8 558.5L271.2 536.7M256.8 558.5L280.2 536.7M265.8 558.5L289.2 536.7M274.8 558.5L298.3 536.7M283.8 558.5L307.3 536.7M292.9 558.5L316.3 536.7M301.9 558.5L325.3 536.7M310.9 558.5L334.3 536.7M319.9 558.5L343.3 536.7M328.9 558.5L352.4 536.7M339.4 558.5L362.9 536.7M348.5 558.5L371.9 536.7M357.5 558.5L380.9 536.7M366.5 558.5L389.9 536.7M375.5 558.5L398.9 536.7M384.5 558.5L408 536.7M393.5 558.5L417 536.7M402.6 558.5L426 536.7M411.6 558.5L435 536.7M420.6 558.5L444 536.7M429.6 558.5L453 536.7M438.6 558.5L462.1 536.7M447.6 558.5L471.1 536.7M456.7 558.5L480.1 536.7M465.7 558.5L489.1 536.7M474.7 558.5L498.1 536.7M483.7 558.5L507.1 536.7M492.7 558.5L516.2 536.7M503.2 558.5L526.7 536.7M512.3 558.5L535.7 536.7M521.3 558.5L544.7 536.7M530.3 558.5L553.7 536.7M539.3 558.5L562.7 536.7M548.3 558.5L571.8 536.7" stroke="#f4f4f4" stroke-width="2.0" fill="none"/>
<path clip-path="url(#c4)" d="M7.3 558.5L30.7 536.7M16.3 558.5L39.8 536.7M25.3 558.5L48.8 536.7M34.3 558.5L57.8 536.7M43.4 558.5L66.8 536.7M52.4 558.5L75.8 536.7M61.4 558.5L84.8 536.7M70.4 558.5L93.8 536.7M79.4 558.5L102.9 536.7M88.4 558.5L111.9 536.7M97.5 558.5L120.9 536.7M106.5 558.5L129.9 536.7M115.5 558.5L138.9 536.7M124.5 558.5L147.9 536.7M133.5 558.5L157 536.7M142.5 558.5L166 536.7M151.6 558.5L175 536.7M160.6 558.5L184 536.7M171.1 558.5L194.5 536.7M180.1 558.5L203.6 536.7M189.1 558.5L212.6 536.7M198.1 558.5L221.6 536.7M207.2 558.5L230.6 536.7M216.2 558.5L239.6 536.7M225.2 558.5L248.6 536.7M234.2 558.5L257.6 536.7M243.2 558.5L266.7 536.7M252.2 558.5L275.7 536.7M261.3 558.5L284.7 536.7M270.3 558.5L293.7 536.7M279.3 558.5L302.7 536.7M288.3 558.5L311.7 536.7M297.3 558.5L320.8 536.7M306.3 558.5L329.8 536.7M315.4 558.5L338.8 536.7M324.4 558.5L347.8 536.7M334.9 558.5L358.3 536.7M343.9 558.5L367.3 536.7M352.9 558.5L376.4 536.7M361.9 558.5L385.4 536.7M371 558.5L394.4 536.7M380 558.5L403.4 536.7M389 558.5L412.4 536.7M398 558.5L421.4 536.7M407 558.5L430.5 536.7M416 558.5L439.5 536.7M425.1 558.5L448.5 536.7M434.1 558.5L457.5 536.7M443.1 558.5L466.5 536.7M452.1 558.5L475.5 536.7M461.1 558.5L484.6 536.7M470.1 558.5L493.6 536.7M479.2 558.5L502.6 536.7M488.2 558.5L511.6 536.7M498.7 558.5L522.1 536.7M507.7 558.5L531.1 536.7M516.7 558.5L540.2 536.7M525.7 558.5L549.2 536.7M534.8 558.5L558.2 536.7M543.8 558.5L567.2 536.7" stroke="#686868" stroke-width="1.7" fill="none"/>
<path d="M498 559 L546 559" stroke="#1c1c1c" stroke-width="5" stroke-linecap="round"/>
<g fill="#1c1c1c"><path d="M560,578.4 497,578.4 497,560 560,560 Z"/><circle cx="497" cy="569.2" r="9.2"/></g>
<g fill="#d0d0d0"><path d="M560,575.8 497,575.8 497,562.6 560,562.6 Z"/><circle cx="497" cy="569.2" r="6.6"/></g>
<clipPath id="c5"><path d="M560,575.8 497,575.8 497,562.6 560,562.6 Z"/><circle cx="497" cy="569.2" r="6.6"/></clipPath>
<path clip-path="url(#c5)" d="M538.9 579.1L560 559.3M529.9 579.1L551 559.3M520.9 579.1L542 559.3M511.9 579.1L533 559.3M502.9 579.1L524 559.3M493.9 579.1L515 559.3M484.9 579.1L506 559.3" stroke="#f4f4f4" stroke-width="2.0" fill="none"/>
<path clip-path="url(#c5)" d="M543.4 579.1L564.6 559.3M534.4 579.1L555.6 559.3M525.4 579.1L546.6 559.3M516.4 579.1L537.6 559.3M507.4 579.1L528.6 559.3M498.4 579.1L519.6 559.3M489.4 579.1L510.6 559.3" stroke="#686868" stroke-width="1.7" fill="none"/>
<use href="#L2"/>
<path d="M545.2 527.8 L601.6 527.8 Q606.6 527.8 607.3 532.8 C610 546.8 610 565.6 607.3 579.6 Q606.6 584.6 601.6 584.6 L545.2 584.6 Q540.2 584.6 539.6 579.6 C536.9 565.6 536.9 546.8 539.6 532.8 Q540.2 527.8 545.2 527.8 Z" fill="#fff" stroke="#148a8f" stroke-width="2.7"/>
<path d="M549.5 533.1 L598.5 533.1 Q602 533.1 602.4 536.6 C604.1 548 604.1 563.3 602.4 574.7 Q602 578.2 598.5 578.2 L549.5 578.2 Q546 578.2 545.6 574.7 C543.9 563.3 543.9 548 545.6 536.6 Q546 533.1 549.5 533.1 Z" fill="url(#gFer)" stroke="#1a1a1a" stroke-width="3.0"/>
<path d="M549.5 533.1 L598.5 533.1 Q602 533.1 602.4 536.6 C604.1 548 604.1 563.3 602.4 574.7 Q602 578.2 598.5 578.2 L549.5 578.2 Q546 578.2 545.6 574.7 C543.9 563.3 543.9 548 545.6 536.6 Q546 533.1 549.5 533.1 Z" fill="url(#gFerH)" stroke="none"/>
<path d="M537.2 511.2 L596.1 511.2" stroke="#148a8f" stroke-width="2.8" fill="none"/>
<path d="M610.1 511.2 L594.4 502.59999999999997 L597.1 511.2 L594.4 519.8 Z" fill="#148a8f"/>
<path d="M401.2 571.8 L479 571.8" stroke="#148a8f" stroke-width="2.8" fill="none"/>
<path d="M387.2 571.8 L402.8 562.8 L399.8 571.8 L402.8 580.4 Z" fill="#148a8f"/>
<g fill="#1c1c1c"><path d="M13,887.4 560,887.4 560,907.9 13,907.9 Z"/></g>
<g fill="#d0d0d0"><path d="M13,890.1 560,890.1 560,905.1 13,905.1 Z"/></g>
<clipPath id="c8"><path d="M13,890.1 560,890.1 560,905.1 13,905.1 Z"/></clipPath>
<path clip-path="url(#c8)" d="M11.8 908.5L35.3 886.7M20.9 908.5L44.3 886.7M29.9 908.5L53.3 886.7M38.9 908.5L62.3 886.7M47.9 908.5L71.4 886.7M56.9 908.5L80.4 886.7M65.9 908.5L89.4 886.7M75 908.5L98.4 886.7M84 908.5L107.4 886.7M93 908.5L116.4 886.7M102 908.5L125.4 886.7M111 908.5L134.5 886.7M120 908.5L143.5 886.7M129.1 908.5L152.5 886.7M138.1 908.5L161.5 886.7M147.1 908.5L170.5 886.7M156.1 908.5L179.5 886.7M165.1 908.5L188.6 886.7M175.6 908.5L199.1 886.7M184.7 908.5L208.1 886.7M193.7 908.5L217.1 886.7M202.7 908.5L226.1 886.7M211.7 908.5L235.1 886.7M220.7 908.5L244.2 886.7M229.7 908.5L253.2 886.7M238.8 908.5L262.2 886.7M247.8 908.5L271.2 886.7M256.8 908.5L280.2 886.7M265.8 908.5L289.2 886.7M274.8 908.5L298.3 886.7M283.8 908.5L307.3 886.7M292.9 908.5L316.3 886.7M301.9 908.5L325.3 886.7M310.9 908.5L334.3 886.7M319.9 908.5L343.3 886.7M328.9 908.5L352.4 886.7M339.4 908.5L362.9 886.7M348.5 908.5L371.9 886.7M357.5 908.5L380.9 886.7M366.5 908.5L389.9 886.7M375.5 908.5L398.9 886.7M384.5 908.5L408 886.7M393.5 908.5L417 886.7M402.6 908.5L426 886.7M411.6 908.5L435 886.7M420.6 908.5L444 886.7M429.6 908.5L453 886.7M438.6 908.5L462.1 886.7M447.6 908.5L471.1 886.7M456.7 908.5L480.1 886.7M465.7 908.5L489.1 886.7M474.7 908.5L498.1 886.7M483.7 908.5L507.1 886.7M492.7 908.5L516.2 886.7M503.2 908.5L526.7 886.7M512.3 908.5L535.7 886.7M521.3 908.5L544.7 886.7M530.3 908.5L553.7 886.7M539.3 908.5L562.7 886.7M548.3 908.5L571.8 886.7" stroke="#f4f4f4" stroke-width="2.0" fill="none"/>
<path clip-path="url(#c8)" d="M7.3 908.5L30.7 886.7M16.3 908.5L39.8 886.7M25.3 908.5L48.8 886.7M34.3 908.5L57.8 886.7M43.4 908.5L66.8 886.7M52.4 908.5L75.8 886.7M61.4 908.5L84.8 886.7M70.4 908.5L93.8 886.7M79.4 908.5L102.9 886.7M88.4 908.5L111.9 886.7M97.5 908.5L120.9 886.7M106.5 908.5L129.9 886.7M115.5 908.5L138.9 886.7M124.5 908.5L147.9 886.7M133.5 908.5L157 886.7M142.5 908.5L166 886.7M151.6 908.5L175 886.7M160.6 908.5L184 886.7M171.1 908.5L194.5 886.7M180.1 908.5L203.6 886.7M189.1 908.5L212.6 886.7M198.1 908.5L221.6 886.7M207.2 908.5L230.6 886.7M216.2 908.5L239.6 886.7M225.2 908.5L248.6 886.7M234.2 908.5L257.6 886.7M243.2 908.5L266.7 886.7M252.2 908.5L275.7 886.7M261.3 908.5L284.7 886.7M270.3 908.5L293.7 886.7M279.3 908.5L302.7 886.7M288.3 908.5L311.7 886.7M297.3 908.5L320.8 886.7M306.3 908.5L329.8 886.7M315.4 908.5L338.8 886.7M324.4 908.5L347.8 886.7M334.9 908.5L358.3 886.7M343.9 908.5L367.3 886.7M352.9 908.5L376.4 886.7M361.9 908.5L385.4 886.7M371 908.5L394.4 886.7M380 908.5L403.4 886.7M389 908.5L412.4 886.7M398 908.5L421.4 886.7M407 908.5L430.5 886.7M416 908.5L439.5 886.7M425.1 908.5L448.5 886.7M434.1 908.5L457.5 886.7M443.1 908.5L466.5 886.7M452.1 908.5L475.5 886.7M461.1 908.5L484.6 886.7M470.1 908.5L493.6 886.7M479.2 908.5L502.6 886.7M488.2 908.5L511.6 886.7M498.7 908.5L522.1 886.7M507.7 908.5L531.1 886.7M516.7 908.5L540.2 886.7M525.7 908.5L549.2 886.7M534.8 908.5L558.2 886.7M543.8 908.5L567.2 886.7" stroke="#686868" stroke-width="1.7" fill="none"/>
<path d="M500 909.2 L548 909.2" stroke="#1c1c1c" stroke-width="5.5" stroke-linecap="round"/>
<g fill="#1c1c1c"><path d="M560,928.8 499,928.8 499,910.4 560,910.4 Z"/><circle cx="499" cy="919.6" r="9.2"/></g>
<g fill="#d0d0d0"><path d="M560,926.2 499,926.2 499,913 560,913 Z"/><circle cx="499" cy="919.6" r="6.6"/></g>
<clipPath id="c9"><path d="M560,926.2 499,926.2 499,913 560,913 Z"/><circle cx="499" cy="919.6" r="6.6"/></clipPath>
<path clip-path="url(#c9)" d="M540.3 929.5L561.5 909.7M531.1 929.5L552.3 909.7M522 929.5L543.2 909.7M512.8 929.5L534 909.7M503.7 929.5L524.9 909.7M494.5 929.5L515.7 909.7M485.4 929.5L506.6 909.7" stroke="#f4f4f4" stroke-width="2.0" fill="none"/>
<path clip-path="url(#c9)" d="M544.8 929.5L566 909.7M535.7 929.5L556.9 909.7M526.5 929.5L547.7 909.7M517.4 929.5L538.6 909.7M508.2 929.5L529.4 909.7M499.1 929.5L520.3 909.7M489.9 929.5L511.1 909.7" stroke="#686868" stroke-width="1.7" fill="none"/>
<use href="#L2" transform="translate(0,350.5)"/>
<path d="M544.9 879.4 L601.9 879.4 Q606.9 879.4 607.5 884.4 C610.2 898.5 610.2 917.5 607.5 931.6 Q606.9 936.6 601.9 936.6 L544.9 936.6 Q539.9 936.6 539.2 931.6 C536.5 917.5 536.5 898.5 539.2 884.4 Q539.9 879.4 544.9 879.4 Z" fill="#fff" stroke="#148a8f" stroke-width="2.7"/>
<path d="M547.9 885.9 L598.9 885.9 Q602.4 885.9 602.8 889.4 C604.5 900.6 604.5 915.5 602.8 926.7 Q602.4 930.2 598.9 930.2 L547.9 930.2 Q544.4 930.2 544 926.7 C542.3 915.5 542.3 900.6 544 889.4 Q544.4 885.9 547.9 885.9 Z" fill="url(#gFer)" stroke="#1a1a1a" stroke-width="3.0"/>
<path d="M547.9 885.9 L598.9 885.9 Q602.4 885.9 602.8 889.4 C604.5 900.6 604.5 915.5 602.8 926.7 Q602.4 930.2 598.9 930.2 L547.9 930.2 Q544.4 930.2 544 926.7 C542.3 915.5 542.3 900.6 544 889.4 Q544.4 885.9 547.9 885.9 Z" fill="url(#gFerH)" stroke="none"/>
<path d="M579.4 783.7 L568.1 794.4 L579.4 804.4 L568.1 814.4 L579.4 824.7" stroke="#148a8f" stroke-width="2.8" fill="none" stroke-linecap="round" stroke-linejoin="miter"/>
<path d="M559.4 832.7 L588.1 832.7 M574 838 L574 860" stroke="#148a8f" stroke-width="2.8" fill="none" stroke-linecap="round"/>
<path d="M574 875.1 L562.7 854.6 L574 859 L585.3 854.6 Z" fill="#148a8f"/>
<path d="M568.1 992.3 L579.8 1002.7 L568.1 1012.6 L579.8 1022.6 L568.1 1033" stroke="#148a8f" stroke-width="2.8" fill="none" stroke-linecap="round" stroke-linejoin="miter"/>
<path d="M559.4 984.7 L588.1 984.7 M574 978.5 L574 957" stroke="#148a8f" stroke-width="2.8" fill="none" stroke-linecap="round"/>
<path d="M574 942.3 L562.7 961.4 L574 958 L585.3 961.4 Z" fill="#148a8f"/>
<use href="#L2" transform="translate(646,798) scale(1.012,1) translate(-646,0)"/>
<g fill="#1c1c1c"><path d="M13,1334.5 595,1334.5 595,1354 13,1354 Z"/></g>
<g fill="#d0d0d0"><path d="M13,1337.2 595,1337.2 595,1351.3 13,1351.3 Z"/></g>
<clipPath id="c10"><path d="M13,1337.2 595,1337.2 595,1351.3 13,1351.3 Z"/></clipPath>
<path clip-path="url(#c10)" d="M12.4 1354.7L34.7 1333.9M21.4 1354.7L43.7 1333.9M30.4 1354.7L52.7 1333.9M39.4 1354.7L61.7 1333.9M48.4 1354.7L70.7 1333.9M57.4 1354.7L79.7 1333.9M66.4 1354.7L88.7 1333.9M75.4 1354.7L97.7 1333.9M84.4 1354.7L106.7 1333.9M93.4 1354.7L115.7 1333.9M102.4 1354.7L124.7 1333.9M111.4 1354.7L133.7 1333.9M120.4 1354.7L142.7 1333.9M129.4 1354.7L151.7 1333.9M138.4 1354.7L160.7 1333.9M148.9 1354.7L171.2 1333.9M157.9 1354.7L180.2 1333.9M166.9 1354.7L189.2 1333.9M175.9 1354.7L198.2 1333.9M184.9 1354.7L207.2 1333.9M193.9 1354.7L216.2 1333.9M202.9 1354.7L225.2 1333.9M211.9 1354.7L234.2 1333.9M220.9 1354.7L243.2 1333.9M229.9 1354.7L252.2 1333.9M238.9 1354.7L261.2 1333.9M247.9 1354.7L270.2 1333.9M256.9 1354.7L279.2 1333.9M265.9 1354.7L288.2 1333.9M274.9 1354.7L297.2 1333.9M285.4 1354.7L307.7 1333.9M294.4 1354.7L316.7 1333.9M303.4 1354.7L325.7 1333.9M312.4 1354.7L334.7 1333.9M321.4 1354.7L343.7 1333.9M330.4 1354.7L352.7 1333.9M339.4 1354.7L361.7 1333.9M348.4 1354.7L370.7 1333.9M357.4 1354.7L379.7 1333.9M366.4 1354.7L388.7 1333.9M375.4 1354.7L397.7 1333.9M384.4 1354.7L406.7 1333.9M393.4 1354.7L415.7 1333.9M402.4 1354.7L424.7 1333.9M411.4 1354.7L433.7 1333.9M421.9 1354.7L444.2 1333.9M430.9 1354.7L453.2 1333.9M439.9 1354.7L462.2 1333.9M448.9 1354.7L471.2 1333.9M457.9 1354.7L480.2 1333.9M466.9 1354.7L489.2 1333.9M475.9 1354.7L498.2 1333.9M484.9 1354.7L507.2 1333.9M493.9 1354.7L516.2 1333.9M502.9 1354.7L525.2 1333.9M511.9 1354.7L534.2 1333.9M520.9 1354.7L543.2 1333.9M529.9 1354.7L552.2 1333.9M538.9 1354.7L561.2 1333.9M547.9 1354.7L570.2 1333.9M558.4 1354.7L580.7 1333.9M567.4 1354.7L589.7 1333.9M576.4 1354.7L598.7 1333.9M585.4 1354.7L607.7 1333.9" stroke="#f4f4f4" stroke-width="2.0" fill="none"/>
<path clip-path="url(#c10)" d="M7.8 1354.7L30.2 1333.9M16.8 1354.7L39.2 1333.9M25.8 1354.7L48.2 1333.9M34.8 1354.7L57.2 1333.9M43.8 1354.7L66.2 1333.9M52.8 1354.7L75.2 1333.9M61.8 1354.7L84.2 1333.9M70.8 1354.7L93.2 1333.9M79.8 1354.7L102.2 1333.9M88.8 1354.7L111.2 1333.9M97.8 1354.7L120.2 1333.9M106.8 1354.7L129.2 1333.9M115.8 1354.7L138.2 1333.9M124.8 1354.7L147.2 1333.9M133.8 1354.7L156.2 1333.9M144.3 1354.7L166.7 1333.9M153.3 1354.7L175.7 1333.9M162.3 1354.7L184.7 1333.9M171.3 1354.7L193.7 1333.9M180.3 1354.7L202.7 1333.9M189.3 1354.7L211.7 1333.9M198.3 1354.7L220.7 1333.9M207.3 1354.7L229.7 1333.9M216.3 1354.7L238.7 1333.9M225.3 1354.7L247.7 1333.9M234.3 1354.7L256.7 1333.9M243.3 1354.7L265.7 1333.9M252.3 1354.7L274.7 1333.9M261.3 1354.7L283.7 1333.9M270.3 1354.7L292.7 1333.9M280.8 1354.7L303.2 1333.9M289.8 1354.7L312.2 1333.9M298.8 1354.7L321.2 1333.9M307.8 1354.7L330.2 1333.9M316.8 1354.7L339.2 1333.9M325.8 1354.7L348.2 1333.9M334.8 1354.7L357.2 1333.9M343.8 1354.7L366.2 1333.9M352.8 1354.7L375.2 1333.9M361.8 1354.7L384.2 1333.9M370.8 1354.7L393.2 1333.9M379.8 1354.7L402.2 1333.9M388.8 1354.7L411.2 1333.9M397.8 1354.7L420.2 1333.9M406.8 1354.7L429.2 1333.9M417.3 1354.7L439.7 1333.9M426.3 1354.7L448.7 1333.9M435.3 1354.7L457.7 1333.9M444.3 1354.7L466.7 1333.9M453.3 1354.7L475.7 1333.9M462.3 1354.7L484.7 1333.9M471.3 1354.7L493.7 1333.9M480.3 1354.7L502.7 1333.9M489.3 1354.7L511.7 1333.9M498.3 1354.7L520.7 1333.9M507.3 1354.7L529.7 1333.9M516.3 1354.7L538.7 1333.9M525.3 1354.7L547.7 1333.9M534.3 1354.7L556.7 1333.9M543.3 1354.7L565.7 1333.9M553.8 1354.7L576.2 1333.9M562.8 1354.7L585.2 1333.9M571.8 1354.7L594.2 1333.9M580.8 1354.7L603.2 1333.9" stroke="#686868" stroke-width="1.7" fill="none"/>
<path d="M314.5 1355.5 L597 1355.5" stroke="#1c1c1c" stroke-width="6" stroke-linecap="round"/>
<g fill="#1c1c1c"><path d="M595,1374.8 313.5,1374.8 313.5,1356.2 595,1356.2 Z"/><circle cx="313.5" cy="1365.5" r="9.2"/></g>
<g fill="#d0d0d0"><path d="M595,1372 313.5,1372 313.5,1359 595,1359 Z"/><circle cx="313.5" cy="1365.5" r="6.5"/></g>
<clipPath id="c11"><path d="M595,1372 313.5,1372 313.5,1359 595,1359 Z"/><circle cx="313.5" cy="1365.5" r="6.5"/></clipPath>
<path clip-path="url(#c11)" d="M573.8 1375.4L595.1 1355.6M564.7 1375.4L586 1355.6M555.7 1375.4L577 1355.6M546.7 1375.4L568 1355.6M537.6 1375.4L559 1355.6M528.6 1375.4L549.9 1355.6M519.6 1375.4L540.9 1355.6M510.6 1375.4L531.9 1355.6M501.5 1375.4L522.8 1355.6M492.5 1375.4L513.8 1355.6M483.5 1375.4L504.8 1355.6M474.4 1375.4L495.7 1355.6M465.4 1375.4L486.7 1355.6M456.4 1375.4L477.7 1355.6M447.3 1375.4L468.6 1355.6M438.3 1375.4L459.6 1355.6M429.3 1375.4L450.6 1355.6M420.2 1375.4L441.5 1355.6M411.2 1375.4L432.5 1355.6M402.2 1375.4L423.5 1355.6M393.1 1375.4L414.4 1355.6M384.1 1375.4L405.4 1355.6M373.6 1375.4L394.9 1355.6M364.5 1375.4L385.8 1355.6M355.5 1375.4L376.8 1355.6M346.5 1375.4L367.8 1355.6M337.4 1375.4L358.7 1355.6M328.4 1375.4L349.7 1355.6M319.4 1375.4L340.7 1355.6M310.3 1375.4L331.6 1355.6M301.3 1375.4L322.6 1355.6" stroke="#f4f4f4" stroke-width="2.0" fill="none"/>
<path clip-path="url(#c11)" d="M578.3 1375.4L599.6 1355.6M569.3 1375.4L590.6 1355.6M560.3 1375.4L581.6 1355.6M551.2 1375.4L572.5 1355.6M542.2 1375.4L563.5 1355.6M533.2 1375.4L554.5 1355.6M524.1 1375.4L545.4 1355.6M515.1 1375.4L536.4 1355.6M506.1 1375.4L527.4 1355.6M497 1375.4L518.3 1355.6M488 1375.4L509.3 1355.6M479 1375.4L500.3 1355.6M469.9 1375.4L491.2 1355.6M460.9 1375.4L482.2 1355.6M451.9 1375.4L473.2 1355.6M442.8 1375.4L464.1 1355.6M433.8 1375.4L455.1 1355.6M424.8 1375.4L446.1 1355.6M415.8 1375.4L437.1 1355.6M406.7 1375.4L428 1355.6M397.7 1375.4L419 1355.6M388.7 1375.4L410 1355.6M378.1 1375.4L399.4 1355.6M369.1 1375.4L390.4 1355.6M360.1 1375.4L381.4 1355.6M351 1375.4L372.3 1355.6M342 1375.4L363.3 1355.6M333 1375.4L354.3 1355.6M323.9 1375.4L345.2 1355.6M314.9 1375.4L336.2 1355.6M305.9 1375.4L327.2 1355.6" stroke="#686868" stroke-width="1.7" fill="none"/>
<g fill="#148a8f" stroke="#148a8f" stroke-width="11.4" stroke-linejoin="round"><path d="M367.7 1307.5 L367.7 1305 C367.7 1294.5 392.3 1294.5 392.3 1305 L392.3 1307.5 Z"/><path d="M361.5 1308.5 Q361.5 1306.8 363.5 1306.8 L396.5 1306.8 Q398.5 1306.8 398.5 1308.5 L398.5 1321 L361.5 1321 Z"/><path d="M352.2 1321.4 L407.8 1321.4 Q409.6 1321.4 409.4 1323.5 L404.6 1373 Q404.4 1375 402.4 1375 L357.6 1375 Q355.6 1375 355.4 1373 L350.6 1323.5 Q350.4 1321.4 352.2 1321.4 Z"/><path d="M367.7 1358.8 A12.3 12.3 0 0 1 392.3 1358.8 L392.3 1389.5 A12.3 12.3 0 0 1 367.7 1389.5 Z"/></g>
<g fill="#fff" stroke="#fff" stroke-width="6.8" stroke-linejoin="round"><path d="M367.7 1307.5 L367.7 1305 C367.7 1294.5 392.3 1294.5 392.3 1305 L392.3 1307.5 Z"/><path d="M361.5 1308.5 Q361.5 1306.8 363.5 1306.8 L396.5 1306.8 Q398.5 1306.8 398.5 1308.5 L398.5 1321 L361.5 1321 Z"/><path d="M352.2 1321.4 L407.8 1321.4 Q409.6 1321.4 409.4 1323.5 L404.6 1373 Q404.4 1375 402.4 1375 L357.6 1375 Q355.6 1375 355.4 1373 L350.6 1323.5 Q350.4 1321.4 352.2 1321.4 Z"/><path d="M367.7 1358.8 A12.3 12.3 0 0 1 392.3 1358.8 L392.3 1389.5 A12.3 12.3 0 0 1 367.7 1389.5 Z"/></g>
<path d="M367.7 1307.5 L367.7 1305 C367.7 1294.5 392.3 1294.5 392.3 1305 L392.3 1307.5 Z" fill="url(#gDome)" stroke="#1a1a1a" stroke-width="2.6"/>
<path d="M361.5 1308.5 Q361.5 1306.8 363.5 1306.8 L396.5 1306.8 Q398.5 1306.8 398.5 1308.5 L398.5 1321 L361.5 1321 Z" fill="url(#gNut)" stroke="#1a1a1a" stroke-width="2.6"/>
<path d="M352.2 1321.4 L407.8 1321.4 Q409.6 1321.4 409.4 1323.5 L404.6 1373 Q404.4 1375 402.4 1375 L357.6 1375 Q355.6 1375 355.4 1373 L350.6 1323.5 Q350.4 1321.4 352.2 1321.4 Z" fill="url(#gSad)" stroke="#1a1a1a" stroke-width="3"/>
<path d="M367.7 1358.8 A12.3 12.3 0 0 1 392.3 1358.8 L392.3 1389.5 A12.3 12.3 0 0 1 367.7 1389.5 Z" fill="url(#gLeg)" stroke="#1a1a1a" stroke-width="3"/>
<g fill="#148a8f" stroke="#148a8f" stroke-width="11.4" stroke-linejoin="round"><path d="M466.7 1307.5 L466.7 1305 C466.7 1294.5 491.3 1294.5 491.3 1305 L491.3 1307.5 Z"/><path d="M460.5 1308.5 Q460.5 1306.8 462.5 1306.8 L495.5 1306.8 Q497.5 1306.8 497.5 1308.5 L497.5 1321 L460.5 1321 Z"/><path d="M451.2 1321.4 L506.8 1321.4 Q508.6 1321.4 508.4 1323.5 L503.6 1373 Q503.4 1375 501.4 1375 L456.6 1375 Q454.6 1375 454.4 1373 L449.6 1323.5 Q449.4 1321.4 451.2 1321.4 Z"/><path d="M466.7 1358.8 A12.3 12.3 0 0 1 491.3 1358.8 L491.3 1389.5 A12.3 12.3 0 0 1 466.7 1389.5 Z"/></g>
<g fill="#fff" stroke="#fff" stroke-width="6.8" stroke-linejoin="round"><path d="M466.7 1307.5 L466.7 1305 C466.7 1294.5 491.3 1294.5 491.3 1305 L491.3 1307.5 Z"/><path d="M460.5 1308.5 Q460.5 1306.8 462.5 1306.8 L495.5 1306.8 Q497.5 1306.8 497.5 1308.5 L497.5 1321 L460.5 1321 Z"/><path d="M451.2 1321.4 L506.8 1321.4 Q508.6 1321.4 508.4 1323.5 L503.6 1373 Q503.4 1375 501.4 1375 L456.6 1375 Q454.6 1375 454.4 1373 L449.6 1323.5 Q449.4 1321.4 451.2 1321.4 Z"/><path d="M466.7 1358.8 A12.3 12.3 0 0 1 491.3 1358.8 L491.3 1389.5 A12.3 12.3 0 0 1 466.7 1389.5 Z"/></g>
<path d="M466.7 1307.5 L466.7 1305 C466.7 1294.5 491.3 1294.5 491.3 1305 L491.3 1307.5 Z" fill="url(#gDome)" stroke="#1a1a1a" stroke-width="2.6"/>
<path d="M460.5 1308.5 Q460.5 1306.8 462.5 1306.8 L495.5 1306.8 Q497.5 1306.8 497.5 1308.5 L497.5 1321 L460.5 1321 Z" fill="url(#gNut)" stroke="#1a1a1a" stroke-width="2.6"/>
<path d="M451.2 1321.4 L506.8 1321.4 Q508.6 1321.4 508.4 1323.5 L503.6 1373 Q503.4 1375 501.4 1375 L456.6 1375 Q454.6 1375 454.4 1373 L449.6 1323.5 Q449.4 1321.4 451.2 1321.4 Z" fill="url(#gSad)" stroke="#1a1a1a" stroke-width="3"/>
<path d="M466.7 1358.8 A12.3 12.3 0 0 1 491.3 1358.8 L491.3 1389.5 A12.3 12.3 0 0 1 466.7 1389.5 Z" fill="url(#gLeg)" stroke="#1a1a1a" stroke-width="3"/>
<g fill="#148a8f" stroke="#148a8f" stroke-width="11.4" stroke-linejoin="round"><path d="M565.3 1307.5 L565.3 1305 C565.3 1294.5 589.9 1294.5 589.9 1305 L589.9 1307.5 Z"/><path d="M559.1 1308.5 Q559.1 1306.8 561.1 1306.8 L594.1 1306.8 Q596.1 1306.8 596.1 1308.5 L596.1 1321 L559.1 1321 Z"/><path d="M549.8 1321.4 L605.4 1321.4 Q607.2 1321.4 607 1323.5 L602.2 1373 Q602 1375 600 1375 L555.2 1375 Q553.2 1375 553 1373 L548.2 1323.5 Q548 1321.4 549.8 1321.4 Z"/><path d="M565.3 1358.8 A12.3 12.3 0 0 1 589.9 1358.8 L589.9 1389.5 A12.3 12.3 0 0 1 565.3 1389.5 Z"/></g>
<g fill="#fff" stroke="#fff" stroke-width="6.8" stroke-linejoin="round"><path d="M565.3 1307.5 L565.3 1305 C565.3 1294.5 589.9 1294.5 589.9 1305 L589.9 1307.5 Z"/><path d="M559.1 1308.5 Q559.1 1306.8 561.1 1306.8 L594.1 1306.8 Q596.1 1306.8 596.1 1308.5 L596.1 1321 L559.1 1321 Z"/><path d="M549.8 1321.4 L605.4 1321.4 Q607.2 1321.4 607 1323.5 L602.2 1373 Q602 1375 600 1375 L555.2 1375 Q553.2 1375 553 1373 L548.2 1323.5 Q548 1321.4 549.8 1321.4 Z"/><path d="M565.3 1358.8 A12.3 12.3 0 0 1 589.9 1358.8 L589.9 1389.5 A12.3 12.3 0 0 1 565.3 1389.5 Z"/></g>
<path d="M565.3 1307.5 L565.3 1305 C565.3 1294.5 589.9 1294.5 589.9 1305 L589.9 1307.5 Z" fill="url(#gDome)" stroke="#1a1a1a" stroke-width="2.6"/>
<path d="M559.1 1308.5 Q559.1 1306.8 561.1 1306.8 L594.1 1306.8 Q596.1 1306.8 596.1 1308.5 L596.1 1321 L559.1 1321 Z" fill="url(#gNut)" stroke="#1a1a1a" stroke-width="2.6"/>
<path d="M549.8 1321.4 L605.4 1321.4 Q607.2 1321.4 607 1323.5 L602.2 1373 Q602 1375 600 1375 L555.2 1375 Q553.2 1375 553 1373 L548.2 1323.5 Q548 1321.4 549.8 1321.4 Z" fill="url(#gSad)" stroke="#1a1a1a" stroke-width="3"/>
<path d="M565.3 1358.8 A12.3 12.3 0 0 1 589.9 1358.8 L589.9 1389.5 A12.3 12.3 0 0 1 565.3 1389.5 Z" fill="url(#gLeg)" stroke="#1a1a1a" stroke-width="3"/>
</svg>
<div class="t b" style="top:9px">Step 1</div>
<div class="t" style="top:46px">Simply lace the dead end of your wire rope through your ferrule and loop the end of your wire rope around the outer groove of<br>the thimble.</div>
<div class="hr" style="top:381px"></div>
<div class="t b" style="top:400px">Step 2</div>
<div class="t" style="top:437px">Pass the end back through the ferrule and pull-in the dead end to fit tight around the thimble.</div>
<div class="hr" style="top:665px"></div>
<div class="t b" style="top:683px">Step 3</div>
<div class="t" style="top:720px">Once in place, we recommend using a crimping/swaging tool to compress the ferrule firmly onto the rope to hold your thimble<br>loop securely.</div>
<div class="t" style="top:1063px">Once fitted we recommend you load test your wire rope assembly with a load that is equal or greater than the expected load<br>to ensure that your loop/eye performs safely.</div>
<div class="hr" style="top:1121px"></div>
<div class="t b" style="top:1140px">Using wire rope grips</div>
<div class="t" style="top:1177px">Alternatively you can use Wire Rope Grips to secure your thimble in place.<br>This method is quick and easy to install.</div>
<div class="t" style="top:1235px">For further information on installation using a wire rope grips please - click here</div>
</body></html>
